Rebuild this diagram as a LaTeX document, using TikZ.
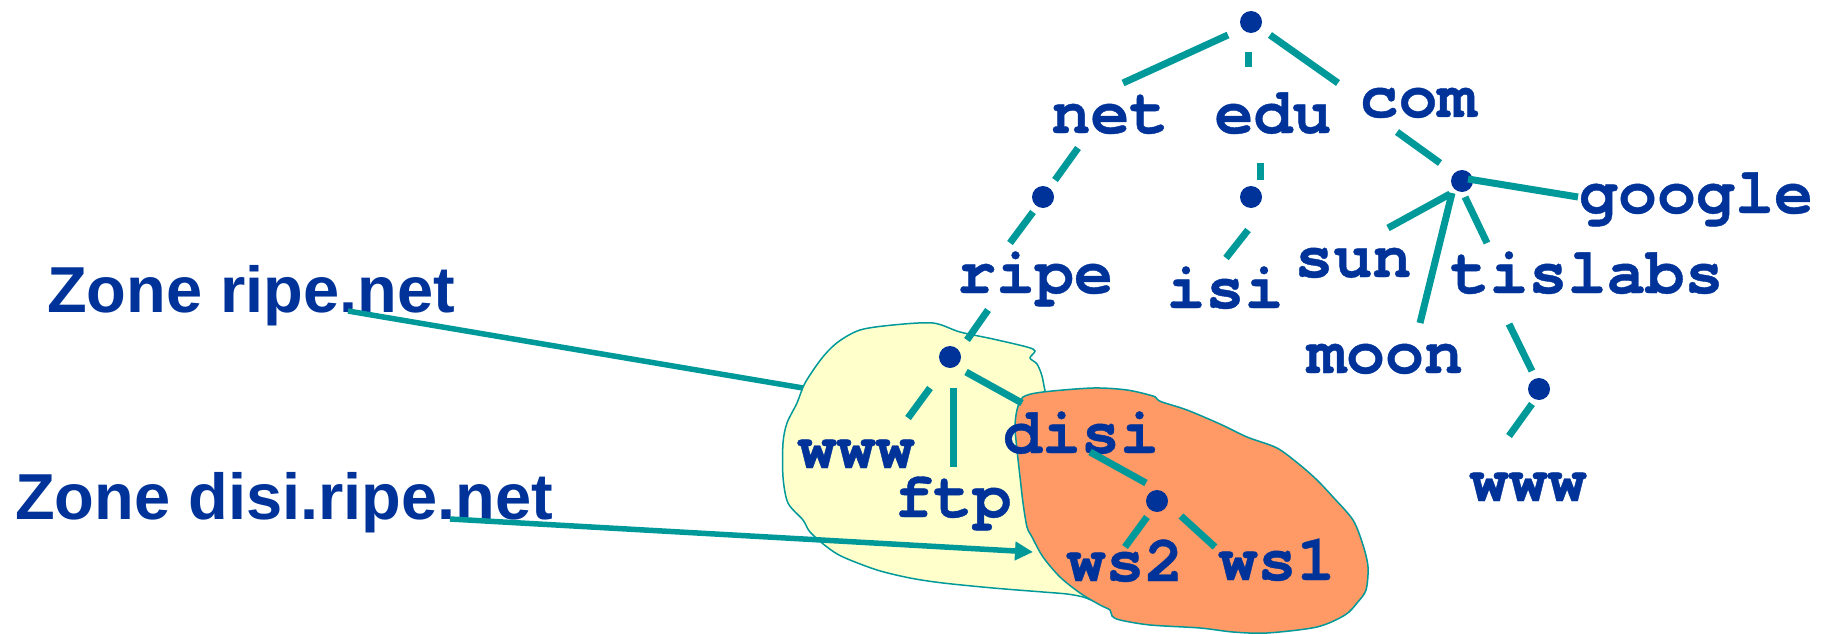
\documentclass[tikz,border=0pt]{standalone}
\usepackage{fontspec}
\usetikzlibrary{arrows.meta}
\newfontfamily\treefont{texgyrecursor}[Extension=.otf, UprightFont=*-regular, BoldFont=*-bold, BoldFeatures={FakeBold=0.6}]
\newfontfamily\zonefont{Liberation Sans}
\definecolor{linkteal}{RGB}{0,153,153}
\definecolor{nameblue}{RGB}{0,51,153}
\definecolor{zoneyellow}{RGB}{255,255,204}
\definecolor{zoneorange}{RGB}{255,153,102}

\begin{document}
\begin{tikzpicture}[x=1pt,y=-1pt,
  edge/.style={draw=linkteal, line width=7pt},
  dot/.style={circle, fill=nameblue, minimum size=22pt, inner sep=0pt},
  dname/.style={anchor=base, inner sep=0pt, text=nameblue,
    font=\treefont\bfseries\fontsize{65pt}{70pt}\selectfont},
  zonetext/.style={anchor=base west, inner sep=0pt, text=nameblue,
    font=\zonefont\bfseries\fontsize{65pt}{72pt}\selectfont},
  zoneline/.style={draw=linkteal, line width=5.5pt},
  blob/.style={draw=linkteal, line width=1.5pt}]

\useasboundingbox (0,0) rectangle (1829,634);

% zone ripe.net
\filldraw[blob, fill=zoneyellow] plot[smooth cycle, tension=0.5] coordinates {
  (860,330) (893,325) (933,323) (960,332) (993,339) (1027,347) (1035,351)
  (1030,358) (1037,364) (1042,376) (1046,395) (1060,450) (1070,520)
  (1100,580) (1125,606) (1100,603) (1083,597) (1067,594) (1043,592)
  (993,588) (943,583) (910,578) (877,570) (843,557) (827,547) (810,532)
  (803,520) (788,503) (783,477) (783,443) (787,423) (797,403) (805,383)
  (822,358) (838,342)};

% zone disi.ripe.net
\filldraw[blob, fill=zoneorange] plot[smooth cycle, tension=0.5] coordinates {
  (1023,397) (1043,392) (1093,388) (1127,390) (1153,396) (1157,399)
  (1162,402) (1187,410) (1220,424) (1247,437) (1277,448) (1300,465)
  (1317,480) (1333,497) (1353,520) (1363,545) (1368,567) (1366,590)
  (1357,603) (1345,615) (1317,627) (1267,633) (1233,632) (1200,628)
  (1150,625) (1120,620) (1112,616) (1110,610) (1100,605) (1080,593)
  (1060,577) (1043,557) (1032,537) (1027,527) (1023,503) (1020,477)
  (1017,450) (1015,427) (1017,410)};

% tree nodes: branching points
\node[dot] (root)  at (1251,22)  {};
\node[dot] (dnet)  at (1043,197) {};
\node[dot] (dedu)  at (1251,197) {};
\node[dot] (dcom)  at (1462,181) {};
\node[dot] (dtis)  at (1539,389) {};
\node[dot] (dripe) at (950,357)  {};
\node[dot] (ddisi) at (1157,501) {};

% tree nodes: labels
\node[dname] (net)     at (1110,133) {net};
\node[dname] (edu)     at (1273,133) {edu};
\node[dname] (com)     at (1418,117) {com};
\node[dname] (ripe)    at (1035,293) {ripe};
\node[dname] (isi)     at (1225,308) {isi};
\node[dname] (sun)     at (1353,277) {sun};
\node[dname] (google)  at (1696,213) {google};
\node[dname] (tislabs) at (1587,293) {tislabs};
\node[dname] (moon)    at (1385,373) {moon};
\node[dname] (wwwtis)  at (1528,501) {www};
\node[dname] (wwwripe) at (856,468)  {www};
\node[dname] (ftp)     at (953,517)  {ftp};
\node[dname] (disi)    at (1081,453) {disi};
\node[dname] (ws2)     at (1125,581) {ws2};
\node[dname] (ws1)     at (1277,580) {ws1};

% tree edges
\draw[edge] ([shift={(-23,13)}]root.center) -- ([shift={(13,-50)}]net.base);
\draw[edge] ([shift={(-3,30)}]root.center)  -- ([shift={(-25,-66)}]edu.base);
\draw[edge] ([shift={(19,13)}]root.center)  -- ([shift={(-80,-34)}]com.base);
\draw[edge] ([shift={(-32,15)}]net.base)    -- ([shift={(12,-17)}]dnet.center);
\draw[edge] ([shift={(-10,15)}]dnet.center) -- ([shift={(-25,-50)}]ripe.base);
\draw[edge] ([shift={(-13,30)}]edu.base)    -- ([shift={(9,-17)}]dedu.center);
\draw[edge] ([shift={(-3,33)}]dedu.center)  -- ([shift={(1,-50)}]isi.base);
\draw[edge] ([shift={(-21,15)}]com.base)    -- ([shift={(-22,-18)}]dcom.center);
\draw[edge] ([shift={(6,-2)}]dcom.center)   -- ([shift={(-118,-16)}]google.base);
\draw[edge] ([shift={(-12,13)}]dcom.center) -- ([shift={(35,-49)}]sun.base);
\draw[edge] ([shift={(-10,12)}]dcom.center) -- ([shift={(35,-50)}]moon.base);
\draw[edge] ([shift={(3,16)}]dcom.center)   -- ([shift={(-100,-50)}]tislabs.base);
\draw[edge] ([shift={(-78,31)}]tislabs.base) -- ([shift={(-7,-18)}]dtis.center);
\draw[edge] ([shift={(-7,15)}]dtis.center)  -- ([shift={(-19,-65)}]wwwtis.base);
\draw[edge] ([shift={(-47,17)}]ripe.base)   -- ([shift={(17,-17)}]dripe.center);
\draw[edge] ([shift={(-20,31)}]dripe.center) -- ([shift={(52,-50)}]wwwripe.base);
\draw[edge] ([shift={(3,31)}]dripe.center)  -- ([shift={(0,-50)}]ftp.base);
\draw[edge] ([shift={(16,15)}]dripe.center) -- ([shift={(-59,-50)}]disi.base);
\draw[edge] ([shift={(9,-1)}]disi.base)     -- ([shift={(-11,-18)}]ddisi.center);
\draw[edge] ([shift={(-10,16)}]ddisi.center) -- ([shift={(0,-34)}]ws2.base);
\draw[edge] ([shift={(24,15)}]ddisi.center) -- ([shift={(-62,-33)}]ws1.base);

% zone captions and their pointers
\node[zonetext] (zripe) at (47,312) {Zone ripe.net};
\node[zonetext] (zdisi) at (15,519) {Zone disi.ripe.net};
\coordinate (ripeedge) at (803,388);
\coordinate (disiedge) at (1033,552);
\draw[zoneline] ([shift={(301,-1)}]zripe.base west) -- (ripeedge);
\draw[zoneline, -{Triangle[length=18pt,width=18pt]}]
  ([shift={(435,0)}]zdisi.base west) -- (disiedge);
\end{tikzpicture}
\end{document}
